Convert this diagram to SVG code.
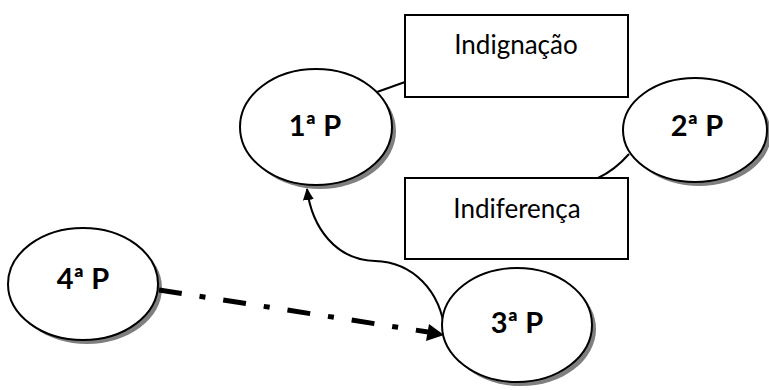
<svg xmlns="http://www.w3.org/2000/svg" width="769" height="390" viewBox="0 0 769 390">
<style>
.ell{fill:#fff;stroke:#000;stroke-width:2}
.sh{fill:#7f7f7f}
.box{fill:#fff;stroke:#000;stroke-width:2}
.lbl{font-family:Lato,"Open Sans",sans-serif;font-weight:bold;font-size:29px;fill:#000;text-anchor:middle}
.txt{font-family:Lato,"Open Sans",sans-serif;font-size:26px;fill:#000;text-anchor:middle}
.con{fill:none;stroke:#000}
</style>
<defs>
<marker id="ahb" viewBox="0 0 12 11" refX="11" refY="5.5" markerWidth="12" markerHeight="11" markerUnits="userSpaceOnUse" orient="auto"><path d="M0 0L12 5.5L0 11z" fill="#000"/></marker>
</defs>
<g id="connectors">
<path class="con" stroke-width="2" d="M377 92 L405 82"/>
<path class="con" stroke-width="2" d="M598 178 Q615 170 629 154"/>
<path class="con" stroke-width="2" d="M445 333 C441 290 412 262 375 261 C336 260 312 228 307 189" marker-end="url(#ahb)"/>
</g>
<g id="n1"><ellipse class="sh" cx="320" cy="131" rx="76" ry="58"/><ellipse class="ell" cx="316" cy="127" rx="76" ry="58"/><text class="lbl" x="315" y="136">1ª P</text></g>
<g id="box1"><rect class="box" x="405" y="15" width="223" height="82"/><text class="txt" x="516" y="54">Indignação</text></g>
<g id="n2"><ellipse class="sh" cx="699" cy="134" rx="72" ry="52"/><ellipse class="ell" cx="695" cy="130" rx="72" ry="52"/><text class="lbl" x="697" y="136">2ª P</text></g>
<g id="box2"><rect class="box" x="405" y="178" width="223" height="81"/><text class="txt" x="517" y="218">Indiferença</text></g>
<g id="n3"><ellipse class="sh" cx="521" cy="329" rx="75" ry="57"/><ellipse class="ell" cx="517" cy="325" rx="75" ry="57"/><text class="lbl" x="517" y="333">3ª P</text></g>
<g id="n4"><ellipse class="sh" cx="87" cy="288" rx="75" ry="56"/><ellipse class="ell" cx="83" cy="284" rx="75" ry="56"/><text class="lbl" x="83" y="289">4ª P</text></g>
<g id="connectors2">
<path class="con" stroke-width="5" stroke-dasharray="23 18 6 18" d="M159 290 L428 332"/>
<path d="M444 335 L426 341 L429 324 z" fill="#000"/>
</g>
</svg>
